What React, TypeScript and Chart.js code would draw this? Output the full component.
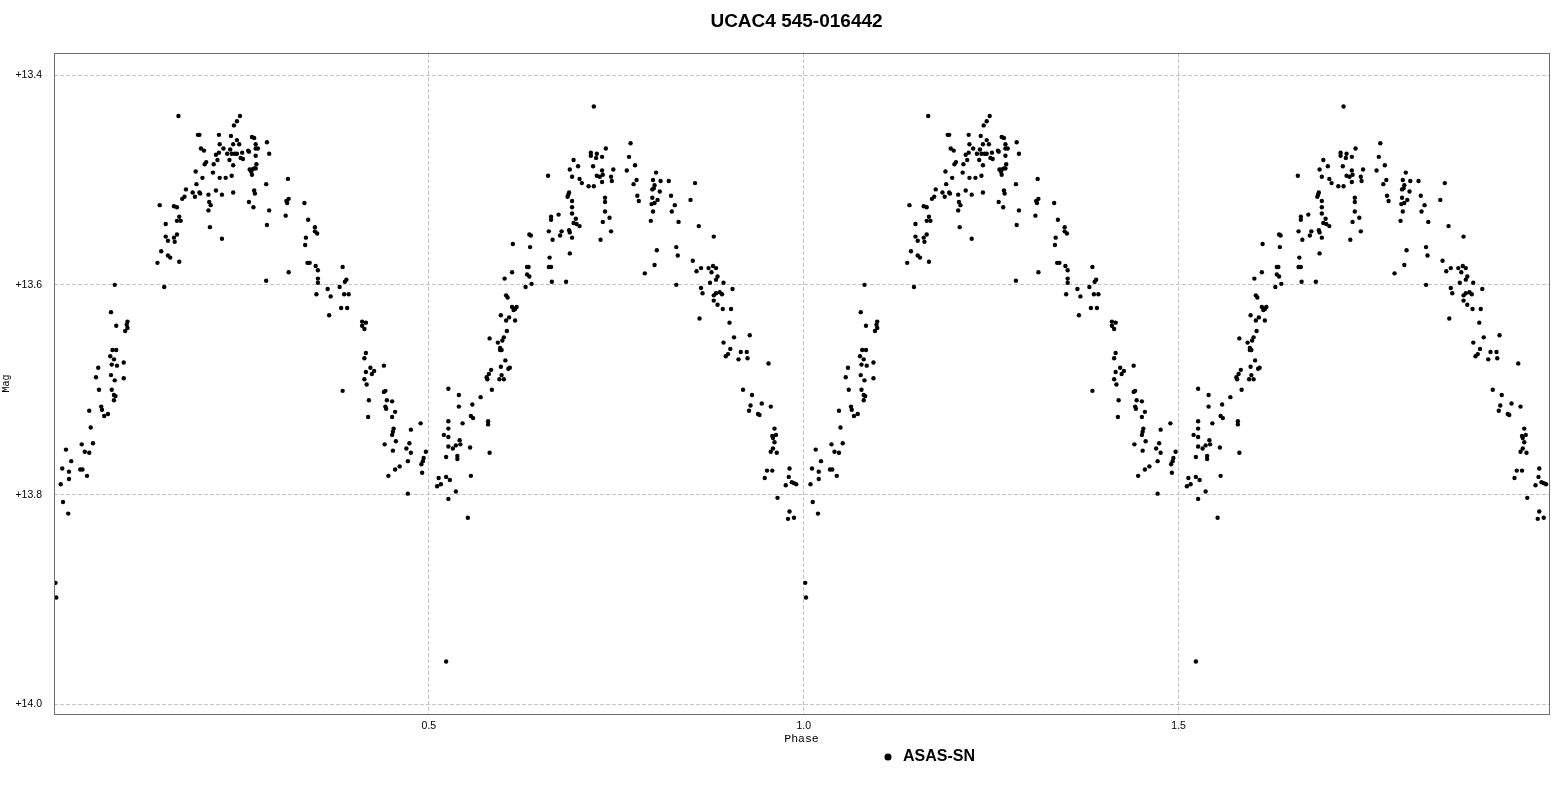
import React, { useEffect, useRef } from "react";
import { Chart, registerables } from "chart.js";

Chart.register(...registerables);

const TITLE = "UCAC4 545-016442";
const SERIES = "ASAS-SN";
const X_LABEL = "Phase";
const Y_LABEL = "Mag";
const X_TICKS = [0.5, 1.0, 1.5];
const Y_TICKS = [13.4, 13.6, 13.8, 14.0];
const CYCLES = [0, 1];

// Phase-folded ASAS-SN photometry (one cycle)
const rise1Phase = [
  0.002, 0.003, 0.009, 0.011, 0.012, 0.016, 0.019, 0.020, 0.020, 0.023,
  0.035, 0.037, 0.038, 0.041, 0.044, 0.047, 0.047, 0.049, 0.052, 0.056,
  0.059, 0.060, 0.063, 0.064, 0.067, 0.072, 0.075, 0.076, 0.076, 0.077,
  0.077, 0.078, 0.080, 0.080, 0.080, 0.081, 0.081, 0.082, 0.083, 0.083,
  0.084, 0.093, 0.093, 0.095, 0.097, 0.098, 0.098,
];
const rise1Mag = [
  13.884, 13.898, 13.790, 13.775, 13.807, 13.757, 13.818, 13.778, 13.785, 13.768,
  13.776, 13.752, 13.776, 13.759, 13.782, 13.760, 13.720, 13.736, 13.751, 13.688,
  13.679, 13.700, 13.716, 13.719, 13.725, 13.723, 13.668, 13.626, 13.686, 13.676,
  13.700, 13.662, 13.671, 13.705, 13.710, 13.600, 13.691, 13.706, 13.639, 13.662,
  13.677, 13.674, 13.689, 13.644, 13.638, 13.635, 13.641,
];

const peak1Phase = [
  0.138, 0.141, 0.143, 0.147, 0.149, 0.149, 0.152, 0.152, 0.155, 0.160,
  0.160, 0.161, 0.164, 0.164, 0.164, 0.166, 0.167, 0.167, 0.169, 0.171,
  0.174, 0.176, 0.185, 0.188, 0.189, 0.190, 0.192, 0.194, 0.194, 0.195,
  0.196, 0.198, 0.200, 0.201, 0.203, 0.206, 0.206, 0.207, 0.208, 0.209,
  0.212, 0.213, 0.216, 0.216, 0.218, 0.220, 0.220, 0.221, 0.221, 0.224,
  0.224, 0.226, 0.229, 0.231, 0.234, 0.235, 0.236, 0.237, 0.237, 0.239,
  0.239, 0.239, 0.240, 0.241, 0.244, 0.244, 0.244, 0.247, 0.248, 0.249,
  0.251, 0.252, 0.259, 0.260, 0.260, 0.261, 0.263, 0.264, 0.264, 0.264,
  0.266, 0.267, 0.267, 0.267, 0.268, 0.269, 0.269, 0.269, 0.269, 0.270,
  0.272, 0.283, 0.283, 0.284, 0.284, 0.287, 0.287,
];
const peak1Mag = [
  13.579, 13.524, 13.568, 13.602, 13.542, 13.554, 13.558, 13.572, 13.574, 13.525,
  13.555, 13.559, 13.526, 13.539, 13.552, 13.439, 13.535, 13.578, 13.539, 13.518,
  13.516, 13.509, 13.512, 13.516, 13.492, 13.504, 13.457, 13.457, 13.512, 13.513,
  13.470, 13.498, 13.472, 13.485, 13.483, 13.514, 13.529, 13.521, 13.545, 13.524,
  13.493, 13.485, 13.476, 13.510, 13.481, 13.457, 13.474, 13.466, 13.498, 13.514,
  13.556, 13.470, 13.498, 13.475, 13.481, 13.471, 13.458, 13.475, 13.496, 13.466,
  13.486, 13.512, 13.448, 13.475, 13.444, 13.462, 13.475, 13.466, 13.439, 13.479,
  13.474, 13.480, 13.472, 13.473, 13.521, 13.490, 13.492, 13.459, 13.490, 13.495,
  13.526, 13.460, 13.489, 13.510, 13.513, 13.466, 13.470, 13.477, 13.489, 13.485,
  13.470, 13.504, 13.596, 13.464, 13.543, 13.475, 13.529,
];

const fall1Phase = [
  0.309, 0.310, 0.311, 0.312, 0.313, 0.313, 0.334, 0.335, 0.336, 0.338,
  0.339, 0.341, 0.348, 0.348, 0.349, 0.350, 0.351, 0.352, 0.352, 0.352,
  0.365, 0.367, 0.369, 0.381, 0.383, 0.385, 0.385, 0.387, 0.388, 0.390,
  0.391, 0.393, 0.411, 0.411, 0.414, 0.414, 0.414, 0.416, 0.416, 0.416,
  0.417, 0.419, 0.420, 0.422, 0.424, 0.427, 0.440, 0.440, 0.441, 0.442,
  0.442, 0.443, 0.444, 0.446, 0.451, 0.451, 0.451, 0.452, 0.452, 0.453,
  0.455, 0.455, 0.456, 0.461, 0.470, 0.472, 0.472, 0.474, 0.476, 0.476,
  0.489, 0.490, 0.491, 0.492, 0.493, 0.496,
];
const fall1Mag = [
  13.534, 13.520, 13.522, 13.499, 13.518, 13.588, 13.522, 13.562, 13.555, 13.579,
  13.538, 13.579, 13.545, 13.549, 13.582, 13.609, 13.551, 13.586, 13.594, 13.598,
  13.604, 13.629, 13.611, 13.602, 13.622, 13.583, 13.701, 13.609, 13.597, 13.595,
  13.622, 13.609, 13.635, 13.639, 13.642, 13.670, 13.690, 13.636, 13.665, 13.683,
  13.695, 13.726, 13.710, 13.679, 13.685, 13.682, 13.677, 13.702, 13.752, 13.701,
  13.716, 13.718, 13.710, 13.782, 13.711, 13.726, 13.743, 13.740, 13.758, 13.737,
  13.721, 13.776, 13.749, 13.773, 13.756, 13.768, 13.799, 13.751, 13.738, 13.760,
  13.732, 13.771, 13.779, 13.768, 13.765, 13.759,
];

const rise2Phase = [
  0.511, 0.513, 0.516, 0.520, 0.523, 0.523, 0.523, 0.526, 0.526, 0.526,
  0.526, 0.526, 0.526, 0.528, 0.532, 0.536, 0.536, 0.538, 0.538, 0.540,
  0.540, 0.541, 0.542, 0.545, 0.552, 0.555, 0.556, 0.556, 0.558, 0.559,
  0.569, 0.577, 0.578, 0.579, 0.579, 0.580, 0.581, 0.581, 0.583, 0.584,
  0.592, 0.594, 0.595, 0.595, 0.596, 0.596, 0.597, 0.597, 0.598, 0.600,
  0.600, 0.601, 0.602, 0.603, 0.603, 0.604, 0.605, 0.606, 0.607, 0.608,
  0.611, 0.611, 0.612, 0.613, 0.615, 0.615, 0.617, 0.629, 0.631, 0.631,
  0.633, 0.634, 0.634, 0.635, 0.636, 0.637,
];
const rise2Mag = [
  13.792, 13.784, 13.790, 13.743, 13.764, 13.783, 13.959, 13.699, 13.730, 13.737,
  13.745, 13.754, 13.804, 13.786, 13.756, 13.753, 13.797, 13.763, 13.766, 13.705,
  13.716, 13.748, 13.752, 13.732, 13.822, 13.755, 13.725, 13.782, 13.714, 13.727,
  13.707, 13.688, 13.690, 13.730, 13.733, 13.685, 13.651, 13.760, 13.681, 13.700,
  13.655, 13.690, 13.660, 13.662, 13.629, 13.678, 13.662, 13.686, 13.653, 13.650,
  13.690, 13.594, 13.672, 13.610, 13.634, 13.644, 13.612, 13.680, 13.631, 13.679,
  13.588, 13.621, 13.561, 13.624, 13.623, 13.634, 13.621, 13.602, 13.583, 13.590,
  13.583, 13.552, 13.592, 13.564, 13.553, 13.599,
];

const peak2Phase = [
  0.659, 0.660, 0.660, 0.661, 0.663, 0.663, 0.663, 0.664, 0.665, 0.673,
  0.675, 0.677, 0.683, 0.685, 0.686, 0.687, 0.687, 0.688, 0.688, 0.688,
  0.691, 0.691, 0.691, 0.691, 0.691, 0.693, 0.693, 0.696, 0.697, 0.699,
  0.701, 0.701, 0.704, 0.713, 0.716, 0.716, 0.719, 0.720, 0.720, 0.723,
  0.724, 0.724, 0.728, 0.729, 0.731, 0.731, 0.731, 0.732, 0.732, 0.735,
  0.735, 0.735, 0.736, 0.741, 0.743, 0.743, 0.744, 0.746, 0.764, 0.767,
  0.769, 0.773, 0.775, 0.777, 0.778, 0.780, 0.788, 0.796, 0.797, 0.798,
  0.798, 0.799, 0.799, 0.800, 0.801, 0.801, 0.801, 0.803, 0.804, 0.805,
  0.808, 0.809, 0.820, 0.823, 0.824, 0.828, 0.830, 0.830, 0.832, 0.833,
];
const peak2Mag = [
  13.496, 13.549, 13.583, 13.574, 13.535, 13.538, 13.583, 13.597, 13.557, 13.533,
  13.553, 13.549, 13.597, 13.516, 13.514, 13.512, 13.548, 13.490, 13.550, 13.570,
  13.497, 13.520, 13.526, 13.532, 13.555, 13.481, 13.541, 13.537, 13.542, 13.487,
  13.499, 13.544, 13.503, 13.506, 13.474, 13.477, 13.487, 13.430, 13.506, 13.479,
  13.475, 13.496, 13.497, 13.557, 13.478, 13.491, 13.502, 13.495, 13.540, 13.517,
  13.521, 13.530, 13.470, 13.536, 13.497, 13.549, 13.501, 13.490, 13.491, 13.478,
  13.465, 13.504, 13.486, 13.500, 13.515, 13.520, 13.589, 13.539, 13.523, 13.509,
  13.517, 13.500, 13.530, 13.508, 13.505, 13.522, 13.581, 13.493, 13.567, 13.519,
  13.511, 13.501, 13.501, 13.515, 13.530, 13.524, 13.564, 13.600, 13.572, 13.540,
];

const fall2Phase = [
  0.849, 0.852, 0.855, 0.857, 0.860, 0.861, 0.863, 0.863, 0.865, 0.873,
  0.875, 0.877, 0.879, 0.880, 0.880, 0.880, 0.883, 0.883, 0.883, 0.885,
  0.885, 0.888, 0.891, 0.892, 0.893, 0.893, 0.896, 0.899, 0.901, 0.902,
  0.903, 0.905, 0.907, 0.913, 0.916, 0.919, 0.924, 0.925, 0.927, 0.928,
  0.929, 0.931, 0.939, 0.941, 0.944, 0.948, 0.951, 0.953, 0.956, 0.956,
  0.958, 0.958, 0.959, 0.959, 0.961, 0.961, 0.963, 0.964, 0.965, 0.976,
  0.979, 0.980, 0.981, 0.981, 0.984, 0.987, 0.987, 0.990,
];
const fall2Mag = [
  13.519, 13.577, 13.503, 13.587, 13.544, 13.632, 13.584, 13.603, 13.608, 13.584,
  13.598, 13.588, 13.582, 13.554, 13.610, 13.615, 13.584, 13.595, 13.608, 13.592,
  13.619, 13.607, 13.609, 13.623, 13.598, 13.655, 13.668, 13.666, 13.636, 13.661,
  13.623, 13.604, 13.650, 13.671, 13.664, 13.700, 13.664, 13.670, 13.720, 13.648,
  13.715, 13.705, 13.723, 13.724, 13.713, 13.784, 13.777, 13.675, 13.716, 13.759,
  13.744, 13.777, 13.746, 13.756, 13.737, 13.750, 13.743, 13.760, 13.803, 13.791,
  13.823, 13.783, 13.775, 13.816, 13.788, 13.789, 13.822, 13.790,
];

const SANS = "'Liberation Sans', Arial, sans-serif";
const MONO = "'Liberation Mono', 'Courier New', monospace";

export default function App() {
  const canvasRef = useRef<HTMLCanvasElement | null>(null);

  useEffect(() => {
    const canvas = canvasRef.current;
    if (!canvas) return;

    const phase = [...rise1Phase, ...peak1Phase, ...fall1Phase, ...rise2Phase, ...peak2Phase, ...fall2Phase];
    const mag = [...rise1Mag, ...peak1Mag, ...fall1Mag, ...rise2Mag, ...peak2Mag, ...fall2Mag];
    const points = CYCLES.flatMap((c) => phase.map((p, i) => ({ x: p + c, y: mag[i] })));

    const framePlugin = {
      id: "frame",
      afterDatasetsDraw(chart: any) {
        const { ctx, chartArea } = chart;
        ctx.save();
        ctx.strokeStyle = "#6e6e6e";
        ctx.lineWidth = 1;
        ctx.strokeRect(
          chartArea.left + 0.5,
          chartArea.top + 0.5,
          chartArea.right - chartArea.left,
          chartArea.bottom - chartArea.top
        );
        ctx.restore();
      },
    };

    const boxShift = {
      id: "boxShift",
      afterLayout(chart: any) {
        const lg = chart.legend;
        if (lg) {
          lg.left += 153.5;
          lg.right += 153.5;
        }
        const tb = chart.titleBlock;
        if (tb) {
          tb.left += 22;
          tb.right += 22;
        }
      },
    };

    const chart = new Chart(canvas, {
      type: "scatter",
      data: {
        datasets: [
          {
            label: SERIES,
            data: points,
            backgroundColor: "#000000",
            borderColor: "#000000",
            borderWidth: 0,
            pointRadius: 2.2,
            pointStyle: "circle",
            showLine: false,
          },
        ],
      },
      options: {
        responsive: true,
        maintainAspectRatio: false,
        animation: false,
        devicePixelRatio: 1,
        layout: { padding: { left: 0, right: 14, top: 0, bottom: 14 } },
        plugins: {
          title: {
            display: true,
            text: TITLE,
            color: "#000",
            font: { family: SANS, size: 19, weight: "bold" },
            padding: { top: 10.6, bottom: 19.6 },
          },
          legend: {
            display: true,
            position: "bottom",
            labels: {
              usePointStyle: true,
              pointStyle: "circle",
              boxWidth: 14,
              boxHeight: 5,
              padding: 3,
              color: "#000",
              font: { family: SANS, size: 16, weight: "bold" },
            },
          },
          tooltip: { enabled: false },
        },
        scales: {
          x: {
            type: "linear",
            min: 0,
            max: 1.994,
            afterBuildTicks: (s: any) => {
              s.ticks = X_TICKS.map((v) => ({ value: v }));
            },
            afterFit: (s: any) => {
              s.height = 32;
            },
            ticks: {
              padding: 6,
              color: "#000",
              font: { family: SANS, size: 10.5 },
              maxRotation: 0,
              autoSkip: false,
              callback: (v: any) => Number(v).toFixed(1),
            },
            grid: { color: "#c4c4c4", lineWidth: 1, drawTicks: false },
            border: { display: false, dash: [4, 2] },
            title: {
              display: true,
              text: X_LABEL,
              color: "#000",
              font: { family: MONO, size: 11.5 },
              padding: 0,
            },
          },
          y: {
            type: "linear",
            reverse: true,
            min: 13.379,
            max: 14.009,
            afterBuildTicks: (s: any) => {
              s.ticks = Y_TICKS.map((v) => ({ value: v }));
            },
            afterFit: (s: any) => {
              s.width = 54;
            },
            ticks: {
              padding: 12,
              color: "#000",
              font: { family: SANS, size: 10.5 },
              autoSkip: false,
              callback: (v: any) => "+" + Number(v).toFixed(1),
            },
            grid: { color: "#c4c4c4", lineWidth: 1, drawTicks: false },
            border: { display: false, dash: [4, 2] },
            title: {
              display: true,
              text: Y_LABEL,
              color: "#000",
              font: { family: MONO, size: 10 },
              padding: 0,
            },
          },
        },
      },
      plugins: [framePlugin, boxShift],
    } as any);

    return () => chart.destroy();
  }, []);

  return (
    <div
      style={{
        position: "fixed",
        left: 0,
        top: 0,
        width: 1563,
        height: 789,
        background: "#ffffff",
      }}
    >
      <canvas ref={canvasRef} />
    </div>
  );
}
